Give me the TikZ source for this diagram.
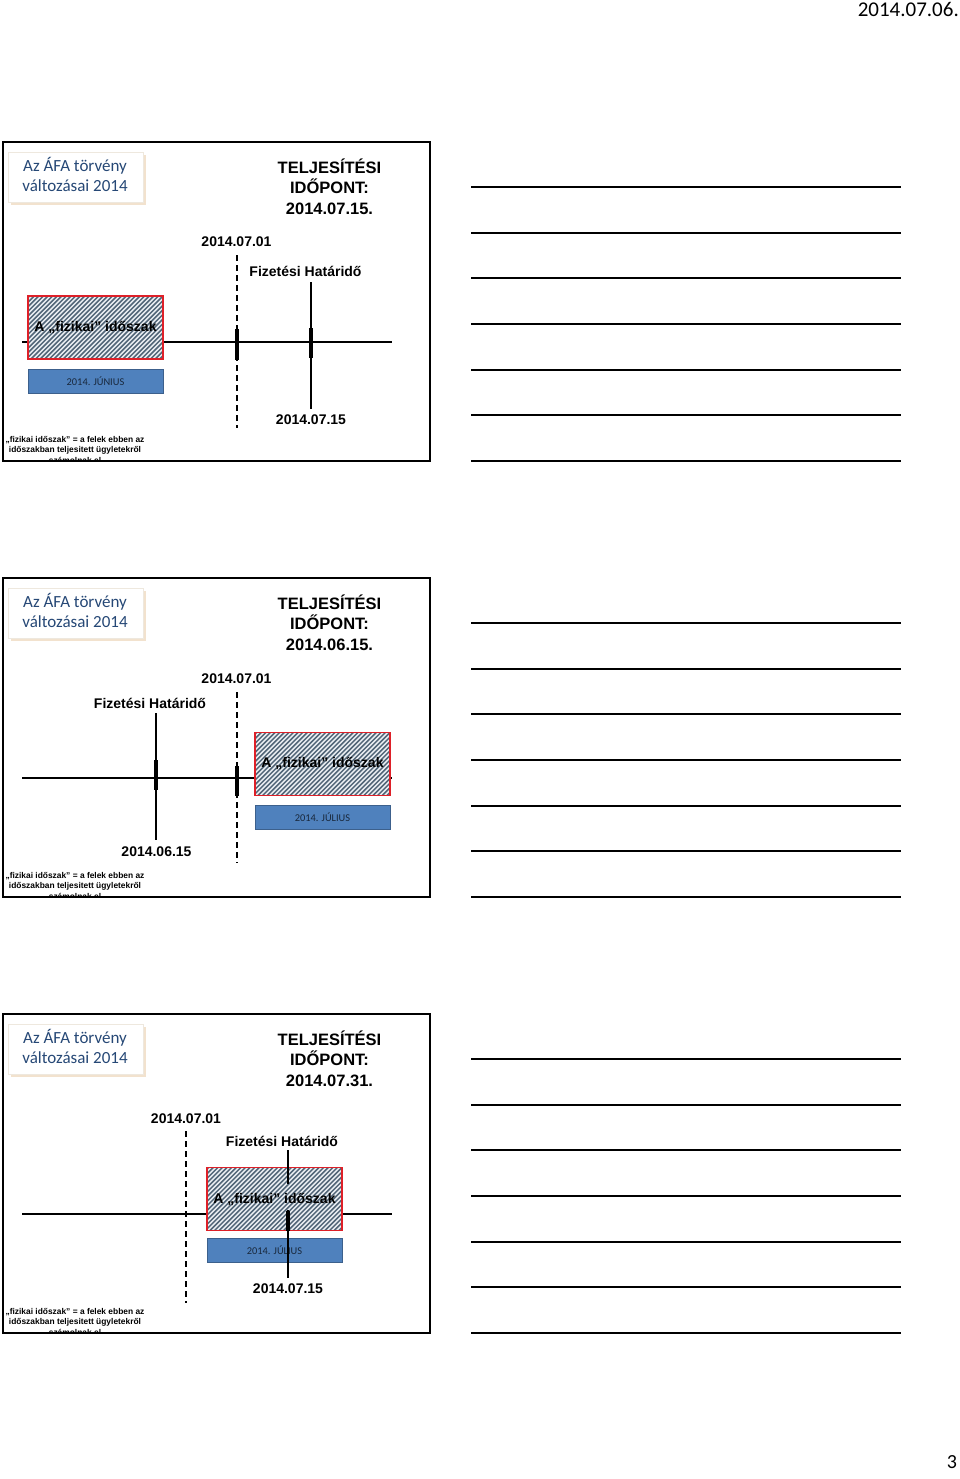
\documentclass[tikz,border=0pt]{standalone}
\usepackage{fontspec}
\setmainfont{Liberation Sans}
\newfontfamily\calfont{Carlito}
\definecolor{titleblue}{RGB}{38,72,118}
\definecolor{shadowbeige}{RGB}{242,226,206}
\definecolor{boxblue}{RGB}{79,129,189}
\definecolor{boxblueedge}{RGB}{60,96,140}
\definecolor{boxtext}{RGB}{25,40,60}
\definecolor{hatchred}{RGB}{222,32,40}
\definecolor{hatchline}{RGB}{82,102,120}
\definecolor{hatchbg}{RGB}{236,240,244}
\tikzset{
  slideframe/.style={draw=black, line width=2pt},
  titlebox/.style={fill=white, draw={rgb,255:red,238;green,232;blue,222}, line width=0.6pt, minimum width=135pt, minimum height=50pt, inner sep=0pt},
  titletext/.style={align=center, text=titleblue, inner sep=0pt, font=\calfont\fontsize{17}{20}\selectfont},
  bigtitle/.style={align=center, inner sep=0pt, font=\bfseries\fontsize{16.5}{20.5}\selectfont},
  datelabel/.style={font=\bfseries\fontsize{14}{16}\selectfont, inner sep=0pt},
  notetext/.style={align=center, font=\bfseries\fontsize{8.4}{10.5}\selectfont, inner sep=0pt},
  hatchborder/.style={draw=hatchred, line width=1.6pt, minimum width=135pt, minimum height=63pt, inner sep=0pt, font=\bfseries\fontsize{14}{16}\selectfont},
  hatchstroke/.style={draw=hatchline, line width=1.5pt},
  monthbox/.style={fill=boxblue, draw=boxblueedge, line width=0.6pt, minimum width=135pt, minimum height=24pt, inner sep=0pt, text=boxtext, font=\calfont\fontsize{10.4}{12}\selectfont},
  timeline/.style={line width=2pt},
  dashline/.style={line width=1.6pt, dash pattern=on 6pt off 4pt},
  solidline/.style={line width=1.6pt},
  ticker/.style={line width=3.5pt},
  noteline/.style={line width=1.8pt}
}
% hatched fill of a rectangle: #1,#2 = top-left corner, #3,#4 = bottom-right corner
\newcommand\myhatch[4]{%
  \fill[hatchbg] (#1,#2) rectangle (#3,#4);
  \begin{scope}
    \clip (#1,#2) rectangle (#3,#4);
    \foreach \s in {0,4.6,...,210} {
      \draw[hatchstroke] (#1-68+\s,#4+2) -- ++(72,-72);
    }
  \end{scope}
}
\begin{document}
\begin{tikzpicture}[x=1pt,y=-1pt]
\useasboundingbox[fill=white] (0,0) rectangle (960,1479);
\node[anchor=east, inner sep=0pt, font=\calfont\fontsize{21}{25}\selectfont] (hdr) at (959,9) {2014.07.06.};
\node[inner sep=0pt, font=\calfont\fontsize{20}{24}\selectfont] (pnum) at (952,1462) {3};

\foreach \i/\d/\tdate in {1/0/2014.07.15.,2/436/2014.06.15.,3/872/2014.07.31.} {
  \draw[slideframe] (3,142+\d) rectangle (430,461+\d);
  \fill[shadowbeige] (11,155+\d) rectangle (146,205+\d);
  \node[titlebox] (title\i) at (75.5,177+\d) {};
  \node[titletext] (titletxt\i) at (75,174+\d) {Az ÁFA törvény\\változásai 2014};
  \node[bigtitle] (telj\i) at (329.5,186.5+\d) {TELJESÍTÉSI\\IDŐPONT:\\\tdate};
  \begin{scope}
    \clip (4,143+\d) rectangle (429,460.5+\d);
    \node[notetext] (note\i) at (75,449.5+\d) {„fizikai időszak” = a felek ebben az\\időszakban teljesitett ügyletekről\\számolnak el};
  \end{scope}
  \foreach \yy in {187,233,278,324,370,415,461} {
    \coordinate (nl\i a\yy) at (471,\yy+\d);
    \coordinate (nl\i b\yy) at (901,\yy+\d);
    \draw[noteline] (nl\i a\yy) -- (nl\i b\yy);
  }
}

% ---------- slide 1 ----------
\coordinate (t1a) at (22,342);
\coordinate (t1b) at (392,342);
\draw[timeline] (t1a) -- (t1b);
\coordinate (d1a) at (237,255);
\coordinate (d1b) at (237,428);
\draw[dashline] (d1a) -- (d1b);
\coordinate (dt1a) at (237,329);
\coordinate (dt1b) at (237,360);
\draw[ticker] (dt1a) -- (dt1b);
\coordinate (f1a) at (311,282);
\coordinate (f1b) at (311,409);
\draw[solidline] (f1a) -- (f1b);
\coordinate (ft1a) at (311,328);
\coordinate (ft1b) at (311,358);
\draw[ticker] (ft1a) -- (ft1b);
\myhatch{28}{296}{163}{359}
\node[hatchborder] (hb1) at (95.5,327.5) {A „fizikai” időszak};
\node[monthbox] (mb1) at (95.5,381) {2014. JÚNIUS};
\node[datelabel] (dl1) at (236.5,242) {2014.07.01};
\node[datelabel] (fh1) at (305.5,271) {Fizetési Határidő};
\node[datelabel] (fd1) at (311,420) {2014.07.15};

% ---------- slide 2 ----------
\coordinate (t2a) at (22,778);
\coordinate (t2b) at (392,778);
\draw[timeline] (t2a) -- (t2b);
\coordinate (d2a) at (237,692);
\coordinate (d2b) at (237,863);
\draw[dashline] (d2a) -- (d2b);
\coordinate (dt2a) at (237,766);
\coordinate (dt2b) at (237,796);
\draw[ticker] (dt2a) -- (dt2b);
\coordinate (f2a) at (156,713);
\coordinate (f2b) at (156,840);
\draw[solidline] (f2a) -- (f2b);
\coordinate (ft2a) at (156,760);
\coordinate (ft2b) at (156,790);
\draw[ticker] (ft2a) -- (ft2b);
\myhatch{255}{732.5}{390}{795.5}
\node[hatchborder] (hb2) at (322.5,764) {A „fizikai” időszak};
\node[monthbox] (mb2) at (322.5,817.5) {2014. JÚLIUS};
\node[datelabel] (dl2) at (236.5,679) {2014.07.01};
\node[datelabel] (fh2) at (150,703) {Fizetési Határidő};
\node[datelabel] (fd2) at (156.5,852) {2014.06.15};

% ---------- slide 3 ----------
\coordinate (t3a) at (22,1214);
\coordinate (t3b) at (392,1214);
\draw[timeline] (t3a) -- (t3b);
\coordinate (d3a) at (186,1131);
\coordinate (d3b) at (186,1303);
\draw[dashline] (d3a) -- (d3b);
\myhatch{207}{1167.5}{342}{1230.5}
\node[hatchborder] (hb3) at (274.5,1199) {};
\node[monthbox] (mb3) at (274.5,1250) {2014. JÚLIUS};
\coordinate (f3a) at (288,1150);
\coordinate (f3b) at (288,1184);
\coordinate (f3c) at (288,1210);
\coordinate (f3d) at (288,1278);
\draw[solidline] (f3a) -- (f3b);
\draw[solidline] (f3c) -- (f3d);
\coordinate (ft3a) at (288,1211);
\coordinate (ft3b) at (288,1231);
\draw[ticker] (ft3a) -- (ft3b);
\node[inner sep=0pt, font=\bfseries\fontsize{14}{16}\selectfont] (hl3) at (hb3.center) {A „fizikai” időszak};
\node[datelabel] (dl3) at (186,1119) {2014.07.01};
\node[datelabel] (fh3) at (282,1141) {Fizetési Határidő};
\node[datelabel] (fd3) at (288,1289) {2014.07.15};
\end{tikzpicture}
\end{document}
